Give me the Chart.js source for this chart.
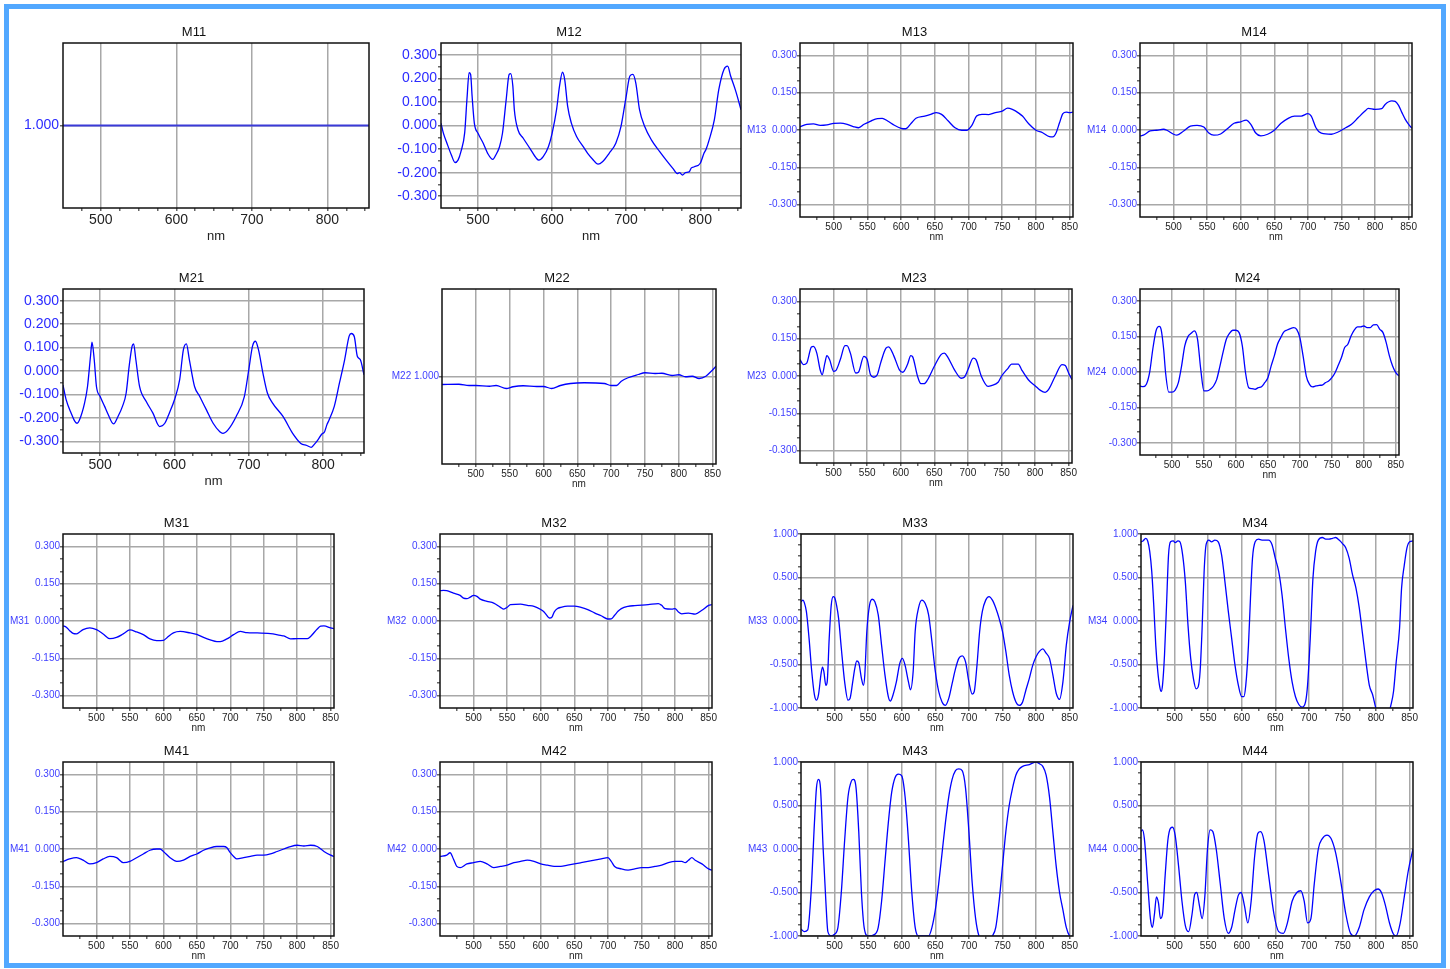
<!DOCTYPE html>
<html>
<head>
<meta charset="utf-8">
<script src="https://cdn.jsdelivr.net/npm/chart.js@4.4.0/dist/chart.umd.min.js"></script>
<style>
body { margin:0; background:#fff; width:1450px; height:969px; position:relative; overflow:hidden; }
#frame { position:absolute; left:4px; top:4px; width:1432px; height:954px; border:5px solid #52a8ff; }
canvas { position:absolute; }
</style>
</head>
<body>
<div id="frame"></div>
<script>
// ---- measured Mueller matrix elements, [wavelength nm, value] ----
const m11 = [[450,1],[855,1]];
const m12 = [[450,0.01],[453,-0.03],[458,-0.075],[464,-0.125],[469,-0.157],[473,-0.147],[477,-0.11],[482,-0.03],[485,0.11],[488,0.224],[490,0.217],[492,0.124],[495,0.01],[500,-0.033],[507,-0.075],[513,-0.118],[520,-0.144],[524,-0.125],[529,-0.09],[533,-0.033],[538,0.11],[542,0.217],[544,0.22],[547,0.167],[549,0.067],[554,-0.019],[561,-0.054],[570,-0.097],[579,-0.14],[582,-0.147],[588,-0.132],[595,-0.09],[600,-0.033],[606,0.067],[610,0.167],[614,0.226],[617,0.195],[621,0.081],[626,0.01],[633,-0.047],[642,-0.09],[648,-0.118],[655,-0.144],[662,-0.164],[668,-0.154],[677,-0.118],[686,-0.075],[693,-0.004],[700,0.124],[705,0.21],[709,0.217],[713,0.18],[718,0.067],[725,-0.004],[734,-0.061],[745,-0.11],[754,-0.147],[763,-0.182],[769,-0.204],[772,-0.2],[776,-0.21],[780,-0.2],[785,-0.197],[788,-0.18],[792,-0.175],[800,-0.16],[805,-0.118],[808,-0.1],[812,-0.061],[819,0.024],[825,0.152],[832,0.238],[837,0.252],[841,0.21],[848,0.145],[855,0.067]];
const m13 = [[450,0.013],[460,0.023],[470,0.025],[480,0.019],[490,0.021],[500,0.027],[510,0.028],[520,0.023],[530,0.013],[537,0.009],[545,0.023],[555,0.036],[565,0.046],[572,0.047],[580,0.036],[590,0.019],[600,0.007],[607,0.005],[615,0.027],[622,0.047],[635,0.056],[645,0.064],[652,0.07],[660,0.063],[670,0.036],[680,0.009],[690,-0.001],[697,-0.001],[705,0.019],[712,0.056],[720,0.063],[730,0.062],[740,0.07],[750,0.076],[758,0.088],[765,0.083],[775,0.067],[780,0.056],[790,0.023],[800,-0.001],[810,-0.011],[820,-0.027],[825,-0.028],[830,-0.011],[835,0.029],[840,0.066],[845,0.072],[850,0.07],[855,0.072]];
const m14 = [[450,-0.024],[455,-0.021],[465,-0.004],[475,-0.001],[485,0.003],[490,-0.001],[500,-0.017],[505,-0.021],[515,-0.004],[525,0.016],[535,0.019],[545,0.012],[552,-0.011],[560,-0.021],[570,-0.016],[580,0.005],[590,0.027],[600,0.033],[608,0.04],[615,0.023],[622,-0.011],[630,-0.024],[640,-0.017],[650,-0.001],[660,0.027],[670,0.046],[680,0.056],[690,0.056],[700,0.066],[705,0.056],[712,0.009],[720,-0.013],[735,-0.017],[745,-0.008],[755,0.007],[765,0.023],[775,0.05],[785,0.076],[790,0.087],[800,0.083],[810,0.086],[815,0.103],[825,0.117],[830,0.115],[835,0.099],[840,0.07],[845,0.043],[850,0.023],[855,0.007]];
const m21 = [[450,-0.06],[454,-0.12],[461,-0.18],[466,-0.215],[469,-0.223],[472,-0.21],[479,-0.137],[483,-0.066],[487,0.063],[489,0.123],[492,0.049],[495,-0.066],[500,-0.109],[506,-0.151],[510,-0.18],[518,-0.226],[524,-0.194],[530,-0.151],[535,-0.094],[539,0.02],[543,0.106],[545,0.116],[548,0.049],[553,-0.066],[562,-0.13],[571,-0.18],[580,-0.237],[587,-0.223],[593,-0.18],[600,-0.123],[607,-0.037],[612,0.091],[616,0.116],[620,0.049],[627,-0.066],[634,-0.109],[643,-0.166],[652,-0.223],[661,-0.259],[665,-0.266],[672,-0.251],[683,-0.194],[694,-0.109],[700,0.006],[705,0.106],[709,0.127],[713,0.091],[719,-0.009],[725,-0.094],[732,-0.137],[746,-0.194],[759,-0.266],[770,-0.309],[778,-0.318],[784,-0.326],[789,-0.31],[793,-0.294],[798,-0.27],[802,-0.259],[805,-0.23],[808,-0.209],[815,-0.151],[822,-0.051],[829,0.049],[835,0.149],[838,0.16],[842,0.146],[846,0.063],[850,0.049],[855,-0.016]];
const m22 = [[450,0.968],[475,0.969],[490,0.964],[500,0.964],[520,0.961],[530,0.964],[545,0.952],[555,0.959],[570,0.963],[590,0.96],[600,0.96],[612,0.952],[625,0.964],[640,0.972],[660,0.975],[690,0.972],[700,0.964],[708,0.964],[715,0.981],[725,0.995],[740,1.008],[750,1.015],[765,1.012],[775,1.013],[790,1.004],[800,1.007],[810,0.999],[820,1.001],[830,0.992],[840,1.001],[848,1.021],[855,1.041]];
const m23 = [[450,0.066],[455,0.046],[460,0.052],[467,0.117],[470,0.119],[475,0.092],[480,0.025],[483,0.005],[487,0.052],[490,0.082],[494,0.066],[500,0.019],[503,0.021],[510,0.066],[517,0.122],[520,0.122],[525,0.092],[533,0.012],[537,0.015],[545,0.079],[550,0.066],[555,0.005],[560,-0.005],[565,0.005],[570,0.052],[578,0.112],[582,0.117],[590,0.079],[598,0.025],[603,0.015],[610,0.046],[615,0.082],[618,0.076],[625,-0.001],[630,-0.031],[635,-0.031],[640,-0.015],[650,0.039],[660,0.086],[665,0.092],[670,0.076],[680,0.025],[690,-0.009],[695,-0.004],[700,0.025],[708,0.072],[712,0.066],[720,-0.001],[730,-0.042],[735,-0.039],[745,-0.025],[750,-0.001],[760,0.032],[765,0.048],[775,0.048],[780,0.025],[790,-0.015],[800,-0.039],[808,-0.058],[815,-0.066],[820,-0.055],[830,-0.001],[840,0.046],[845,0.042],[850,0.012],[855,-0.015]];
const m24 = [[450,-0.059],[455,-0.062],[460,-0.052],[465,-0.003],[470,0.096],[475,0.173],[480,0.192],[483,0.18],[487,0.096],[490,-0.003],[495,-0.085],[500,-0.085],[505,-0.076],[510,-0.045],[515,0.025],[520,0.11],[525,0.149],[530,0.163],[535,0.173],[540,0.138],[545,0.011],[550,-0.08],[555,-0.08],[560,-0.073],[565,-0.059],[570,-0.031],[575,0.025],[580,0.085],[585,0.138],[590,0.163],[595,0.176],[600,0.176],[605,0.166],[610,0.11],[615,-0.003],[620,-0.066],[625,-0.07],[630,-0.073],[635,-0.066],[640,-0.062],[645,-0.045],[650,-0.024],[655,0.025],[660,0.068],[665,0.117],[670,0.145],[675,0.169],[680,0.177],[685,0.183],[690,0.187],[695,0.18],[700,0.145],[705,0.068],[710,-0.017],[715,-0.052],[720,-0.063],[725,-0.059],[730,-0.056],[735,-0.055],[740,-0.045],[745,-0.038],[750,-0.024],[755,-0.003],[760,0.028],[765,0.061],[770,0.103],[775,0.117],[780,0.152],[785,0.177],[790,0.19],[795,0.19],[800,0.194],[805,0.187],[810,0.187],[815,0.199],[820,0.2],[825,0.18],[830,0.166],[835,0.124],[840,0.068],[845,0.025],[850,-0.003],[855,-0.017]];
const m31 = [[450,-0.019],[455,-0.025],[460,-0.039],[465,-0.05],[470,-0.052],[475,-0.044],[480,-0.035],[490,-0.028],[500,-0.035],[510,-0.052],[520,-0.071],[530,-0.066],[540,-0.052],[550,-0.036],[560,-0.044],[570,-0.055],[580,-0.072],[590,-0.079],[600,-0.078],[605,-0.068],[615,-0.048],[625,-0.042],[640,-0.048],[650,-0.054],[660,-0.066],[670,-0.076],[680,-0.083],[685,-0.083],[695,-0.072],[705,-0.055],[715,-0.042],[725,-0.047],[740,-0.048],[760,-0.051],[775,-0.058],[780,-0.06],[790,-0.072],[800,-0.071],[815,-0.071],[820,-0.062],[830,-0.032],[835,-0.021],[840,-0.02],[850,-0.028],[855,-0.031]];
const m32 = [[450,0.122],[455,0.123],[460,0.122],[470,0.112],[480,0.103],[485,0.092],[490,0.09],[495,0.096],[500,0.103],[505,0.099],[510,0.088],[520,0.079],[530,0.072],[540,0.055],[545,0.048],[550,0.055],[555,0.066],[570,0.068],[580,0.063],[590,0.059],[600,0.046],[605,0.036],[610,0.019],[613,0.012],[617,0.017],[620,0.036],[625,0.05],[630,0.055],[640,0.06],[650,0.06],[660,0.055],[670,0.046],[680,0.033],[690,0.021],[700,0.008],[705,0.009],[710,0.023],[715,0.039],[720,0.05],[730,0.059],[740,0.062],[760,0.066],[775,0.07],[780,0.063],[785,0.05],[795,0.048],[800,0.05],[805,0.036],[810,0.029],[820,0.032],[830,0.028],[840,0.043],[850,0.063],[855,0.066]];
const m33 = [[450,0.22],[453,0.24],[455,0.21],[458,0.11],[462,-0.2],[466,-0.58],[470,-0.85],[473,-0.91],[476,-0.85],[480,-0.6],[482,-0.53],[484,-0.58],[487,-0.74],[489,-0.7],[492,-0.2],[495,0.18],[498,0.28],[500,0.27],[503,0.18],[506,0.03],[510,-0.31],[515,-0.7],[520,-0.91],[523,-0.89],[527,-0.7],[530,-0.55],[533,-0.46],[536,-0.48],[540,-0.66],[543,-0.74],[545,-0.62],[548,-0.12],[552,0.18],[556,0.25],[560,0.22],[565,0.07],[570,-0.28],[575,-0.62],[580,-0.87],[583,-0.92],[587,-0.85],[592,-0.7],[597,-0.49],[601,-0.43],[605,-0.51],[610,-0.7],[613,-0.79],[617,-0.58],[620,-0.12],[625,0.15],[630,0.24],[635,0.2],[640,0.07],[645,-0.24],[650,-0.58],[655,-0.81],[660,-0.93],[665,-0.97],[670,-0.89],[675,-0.72],[680,-0.55],[685,-0.43],[690,-0.4],[695,-0.47],[700,-0.7],[705,-0.84],[708,-0.81],[712,-0.51],[716,-0.12],[720,0.11],[725,0.24],[730,0.28],[735,0.24],[740,0.15],[745,0.03],[750,-0.12],[755,-0.35],[760,-0.62],[765,-0.81],[770,-0.93],[775,-0.97],[780,-0.93],[785,-0.79],[790,-0.66],[795,-0.51],[800,-0.41],[805,-0.35],[810,-0.32],[815,-0.37],[820,-0.43],[825,-0.62],[830,-0.83],[835,-0.9],[840,-0.7],[845,-0.28],[850,-0.01],[855,0.18]];
const m34 = [[450,0.91],[453,0.92],[457,0.95],[460,0.92],[463,0.8],[466,0.57],[469,0.18],[472,-0.28],[475,-0.58],[478,-0.76],[480,-0.81],[482,-0.74],[485,-0.39],[488,0.18],[491,0.76],[494,0.91],[498,0.92],[501,0.9],[505,0.92],[508,0.91],[512,0.76],[516,0.45],[520,-0.05],[524,-0.43],[528,-0.66],[532,-0.78],[535,-0.76],[538,-0.58],[541,-0.08],[544,0.57],[547,0.88],[551,0.93],[555,0.91],[560,0.93],[565,0.91],[570,0.76],[575,0.45],[580,0.11],[585,-0.2],[590,-0.51],[595,-0.74],[600,-0.87],[603,-0.87],[606,-0.74],[610,-0.28],[613,0.26],[616,0.72],[620,0.91],[625,0.94],[630,0.93],[640,0.93],[645,0.88],[650,0.72],[655,0.57],[660,0.3],[665,-0.08],[670,-0.43],[675,-0.7],[680,-0.87],[685,-0.96],[690,-0.99],[695,-0.93],[698,-0.74],[702,-0.2],[706,0.49],[710,0.8],[714,0.93],[720,0.96],[725,0.94],[730,0.94],[735,0.95],[740,0.96],[745,0.93],[750,0.89],[755,0.84],[760,0.72],[765,0.53],[770,0.38],[775,0.15],[780,-0.16],[785,-0.47],[790,-0.74],[795,-0.85],[800,-1.01],[805,-1.08],[812,-1.15],[818,-1.08],[822,-0.97],[826,-0.81],[830,-0.47],[835,-0.08],[838,0.38],[842,0.64],[846,0.84],[850,0.91],[855,0.92]];
const m41 = [[450,-0.05],[460,-0.04],[470,-0.035],[480,-0.045],[490,-0.06],[500,-0.055],[510,-0.04],[520,-0.03],[530,-0.035],[540,-0.055],[550,-0.05],[560,-0.035],[570,-0.02],[580,-0.005],[590,0.0],[595,0.0],[600,-0.01],[610,-0.035],[620,-0.05],[630,-0.045],[640,-0.03],[650,-0.02],[660,-0.005],[670,0.005],[680,0.01],[690,0.01],[695,0.005],[700,-0.015],[705,-0.03],[710,-0.04],[720,-0.035],[730,-0.03],[740,-0.025],[750,-0.025],[760,-0.02],[770,-0.01],[780,0.0],[790,0.01],[800,0.015],[810,0.012],[820,0.015],[830,0.01],[840,-0.01],[850,-0.025],[855,-0.03]];
const m42 = [[450,-0.03],[460,-0.025],[465,-0.015],[470,-0.04],[475,-0.07],[480,-0.075],[490,-0.06],[500,-0.055],[510,-0.05],[520,-0.06],[530,-0.075],[540,-0.07],[550,-0.065],[560,-0.055],[570,-0.05],[580,-0.045],[590,-0.05],[600,-0.06],[610,-0.065],[620,-0.07],[630,-0.07],[640,-0.065],[650,-0.06],[660,-0.055],[670,-0.05],[680,-0.045],[690,-0.04],[700,-0.035],[705,-0.05],[710,-0.07],[720,-0.08],[730,-0.085],[740,-0.08],[750,-0.075],[760,-0.075],[770,-0.07],[780,-0.065],[790,-0.055],[800,-0.05],[810,-0.05],[815,-0.055],[820,-0.045],[825,-0.035],[830,-0.045],[840,-0.06],[850,-0.08],[855,-0.085]];
const m43 = [[450,-0.92],[455,-0.95],[460,-0.93],[465,-0.5],[470,0.3],[473,0.7],[476,0.8],[479,0.7],[483,0.0],[487,-0.6],[490,-0.95],[495,-1.0],[500,-0.98],[505,-0.9],[510,-0.5],[515,0.1],[520,0.6],[525,0.78],[528,0.8],[532,0.7],[536,0.2],[540,-0.5],[544,-0.9],[550,-1.0],[560,-0.98],[565,-0.9],[570,-0.6],[575,-0.15],[580,0.3],[585,0.65],[590,0.82],[595,0.86],[600,0.84],[605,0.6],[610,0.1],[615,-0.5],[620,-0.9],[625,-1.0],[640,-1.0],[645,-0.9],[650,-0.7],[655,-0.4],[660,-0.05],[665,0.3],[670,0.6],[675,0.8],[680,0.9],[685,0.92],[690,0.9],[695,0.7],[700,0.2],[705,-0.4],[710,-0.8],[715,-1.0],[720,-1.05],[730,-1.05],[735,-1.0],[740,-0.9],[745,-0.6],[750,-0.2],[755,0.2],[760,0.5],[765,0.7],[770,0.85],[775,0.92],[780,0.95],[790,0.97],[800,1.0],[805,0.98],[810,0.95],[815,0.85],[820,0.6],[825,0.2],[830,-0.2],[835,-0.5],[840,-0.7],[845,-0.9],[850,-1.0],[855,-1.02]];
const m44 = [[450,0.2],[452,0.22],[455,0.12],[460,-0.4],[464,-0.8],[467,-0.9],[470,-0.75],[473,-0.55],[476,-0.62],[479,-0.8],[482,-0.75],[486,-0.3],[490,0.1],[494,0.24],[497,0.25],[501,0.15],[506,-0.2],[511,-0.6],[516,-0.88],[521,-0.95],[526,-0.75],[530,-0.52],[533,-0.5],[537,-0.65],[541,-0.8],[545,-0.55],[549,0.0],[553,0.22],[557,0.2],[562,0.0],[568,-0.4],[574,-0.8],[580,-0.97],[585,-0.9],[590,-0.7],[595,-0.53],[599,-0.5],[604,-0.65],[609,-0.85],[614,-0.6],[619,-0.1],[624,0.18],[628,0.2],[633,0.1],[640,-0.3],[648,-0.75],[655,-0.95],[662,-0.97],[668,-0.85],[675,-0.6],[682,-0.5],[688,-0.48],[693,-0.6],[698,-0.85],[703,-0.8],[708,-0.4],[714,0.0],[720,0.12],[727,0.16],[733,0.12],[740,-0.05],[748,-0.4],[755,-0.75],[762,-0.97],[768,-1.0],[775,-0.9],[782,-0.7],[790,-0.55],[797,-0.48],[803,-0.46],[808,-0.5],[814,-0.65],[820,-0.85],[826,-0.98],[830,-1.0],[836,-0.85],[842,-0.55],[848,-0.25],[855,0.0]];

// ---- axis tick sets ----
const xBigMajor = [500, 600, 700, 800];
const xBigMinor = [475, 525, 550, 575, 625, 650, 675, 725, 750, 775, 825, 850];
const xSmallMajor = [500, 550, 600, 650, 700, 750, 800, 850];
const xSmallMinor = [475, 525, 575, 625, 675, 725, 775, 825];
const yBigMajor = [-0.3, -0.2, -0.1, 0, 0.1, 0.2, 0.3];
const yBigMinor = [-0.25, -0.15, -0.05, 0.05, 0.15, 0.25];
const ySmallMajor = [-0.3, -0.15, 0, 0.15, 0.3];
const ySmallMinor = [-0.25, -0.2, -0.1, -0.05, 0.05, 0.1, 0.2, 0.25];
const yUnitMajor = [-1, -0.5, 0, 0.5, 1];
const yUnitMinor = [-0.875, -0.75, -0.625, -0.375, -0.25, -0.125, 0.125, 0.25, 0.375, 0.625, 0.75, 0.875];
const yDiagMajor = [1];

const FONT = '"Liberation Sans", Arial, Helvetica, sans-serif';
const GRID = '#a8a8a8';

const yTypes = {
  big:   { min: -0.35, max: 0.35, major: yBigMajor, minor: yBigMinor },
  small: { min: -0.35, max: 0.35, major: ySmallMajor, minor: ySmallMinor },
  unit:  { min: -1, max: 1, major: yUnitMajor, minor: yUnitMinor },
  diag:  { min: 0.65, max: 1.35, major: yDiagMajor, minor: [] }
};

// plot rectangles on the page [left, top, right, bottom]
const panels = [
  { name: 'M11', data: m11, box: [63, 43, 369, 208], big: true, y: 'diag', tag: false },
  { name: 'M12', data: m12, box: [441, 43, 741, 208], big: true, y: 'big', tag: false },
  { name: 'M13', data: m13, box: [800, 43, 1073, 217], big: false, y: 'small', tag: true },
  { name: 'M14', data: m14, box: [1140, 43, 1412, 217], big: false, y: 'small', tag: true },
  { name: 'M21', data: m21, box: [63, 289, 364, 453], big: true, y: 'big', tag: false },
  { name: 'M22', data: m22, box: [442, 289, 716, 464], big: false, y: 'diag', tag: true },
  { name: 'M23', data: m23, box: [800, 289, 1072, 463], big: false, y: 'small', tag: true },
  { name: 'M24', data: m24, box: [1140, 289, 1399, 455], big: false, y: 'small', tag: true },
  { name: 'M31', data: m31, box: [63, 534, 334, 708], big: false, y: 'small', tag: true },
  { name: 'M32', data: m32, box: [440, 534, 712, 708], big: false, y: 'small', tag: true },
  { name: 'M33', data: m33, box: [801, 534, 1073, 708], big: false, y: 'unit', tag: true },
  { name: 'M34', data: m34, box: [1141, 534, 1413, 708], big: false, y: 'unit', tag: true },
  { name: 'M41', data: m41, box: [63, 762, 334, 936], big: false, y: 'small', tag: true },
  { name: 'M42', data: m42, box: [440, 762, 712, 936], big: false, y: 'small', tag: true },
  { name: 'M43', data: m43, box: [801, 762, 1073, 936], big: false, y: 'unit', tag: true },
  { name: 'M44', data: m44, box: [1141, 762, 1413, 936], big: false, y: 'unit', tag: true }
];

const framePlugin = {
  id: 'frame',
  afterDraw(chart, args, opts) {
    const { ctx, chartArea: a } = chart;
    ctx.save();
    ctx.strokeStyle = '#111';
    ctx.lineWidth = 1.5;
    ctx.strokeRect(a.left, a.top, a.right - a.left, a.bottom - a.top);
    ctx.fillStyle = '#111';
    ctx.font = '13px ' + FONT;
    ctx.textAlign = 'center';
    ctx.textBaseline = 'middle';
    ctx.fillText(opts.title, (a.left + a.right) / 2 - 22, a.top - 11);
    ctx.restore();
  }
};

const YW = 60, RP = 12, TH = 26;

panels.forEach(function (p) {
  const [l, t, r, b] = p.box;
  const xh = p.big ? 40 : 30;
  const fs = p.big ? 14 : 10;
  const yt = yTypes[p.y];
  const xMajor = p.big ? xBigMajor : xSmallMajor;
  const xMinor = p.big ? xBigMinor : xSmallMinor;
  const yMajorSet = new Set(yt.major);
  const xMajorSet = new Set(xMajor);

  const cv = document.createElement('canvas');
  cv.width = r - l + YW + RP;
  cv.height = b - t + TH + xh;
  cv.style.left = (l - YW) + 'px';
  cv.style.top = (t - TH) + 'px';
  cv.style.width = cv.width + 'px';
  cv.style.height = cv.height + 'px';
  document.body.appendChild(cv);

  new Chart(cv, {
    type: 'line',
    data: {
      datasets: [{
        data: p.data,
        borderColor: p.name === 'M11' ? '#3a3ad8' : '#0000ff',
        borderWidth: p.name === 'M11' ? 2 : 1.3,
        pointRadius: 0,
        cubicInterpolationMode: 'monotone',
        fill: false
      }]
    },
    options: {
      responsive: false,
      animation: false,
      events: [],
      layout: { padding: { left: 0, right: RP, top: TH, bottom: 0 } },
      plugins: { legend: { display: false }, tooltip: { enabled: false }, frame: { title: p.name } },
      scales: {
        x: {
          type: 'linear',
          min: 450,
          max: 855,
          afterBuildTicks: s => { s.ticks = xMajor.concat(xMinor).map(v => ({ value: v })); },
          afterFit: s => { s.height = xh; s.paddingLeft = 0; s.paddingRight = 0; },
          border: { display: false },
          grid: {
            color: c => (c.tick && xMajorSet.has(c.tick.value)) ? GRID : 'rgba(0,0,0,0)',
            lineWidth: 1.5,
            tickColor: '#666',
            tickLength: 3
          },
          ticks: {
            autoSkip: false, maxRotation: 0, minRotation: 0, padding: 1,
            color: '#222',
            font: { family: FONT, size: fs },
            callback: v => xMajorSet.has(v) ? String(v) : ''
          },
          title: {
            display: true, text: 'nm', color: '#222',
            font: { family: FONT, size: p.big ? 13 : 10 },
            padding: { top: 0, bottom: 4 }
          }
        },
        y: {
          type: 'linear',
          min: yt.min,
          max: yt.max,
          afterBuildTicks: s => { s.ticks = yt.major.concat(yt.minor).map(v => ({ value: v })); },
          afterFit: s => { s.width = YW; s.paddingTop = 0; s.paddingBottom = 0; },
          border: { display: false },
          grid: {
            color: c => (c.tick && yMajorSet.has(c.tick.value)) ? GRID : 'rgba(0,0,0,0)',
            lineWidth: 1.5,
            tickColor: '#666',
            tickLength: 3
          },
          ticks: {
            autoSkip: false, padding: p.big ? 1 : 0,
            color: p.big ? '#2b2bff' : '#3f3fff',
            font: { family: FONT, size: fs },
            callback: function (v) {
              if (!yMajorSet.has(v)) return '';
              const s = v.toFixed(3);
              if (p.tag && (v === 0 || p.y === 'diag')) return p.name + (p.y === 'diag' ? ' ' : '  ') + s;
              return s;
            }
          }
        }
      }
    },
    plugins: [framePlugin]
  });
});
</script>
</body>
</html>
